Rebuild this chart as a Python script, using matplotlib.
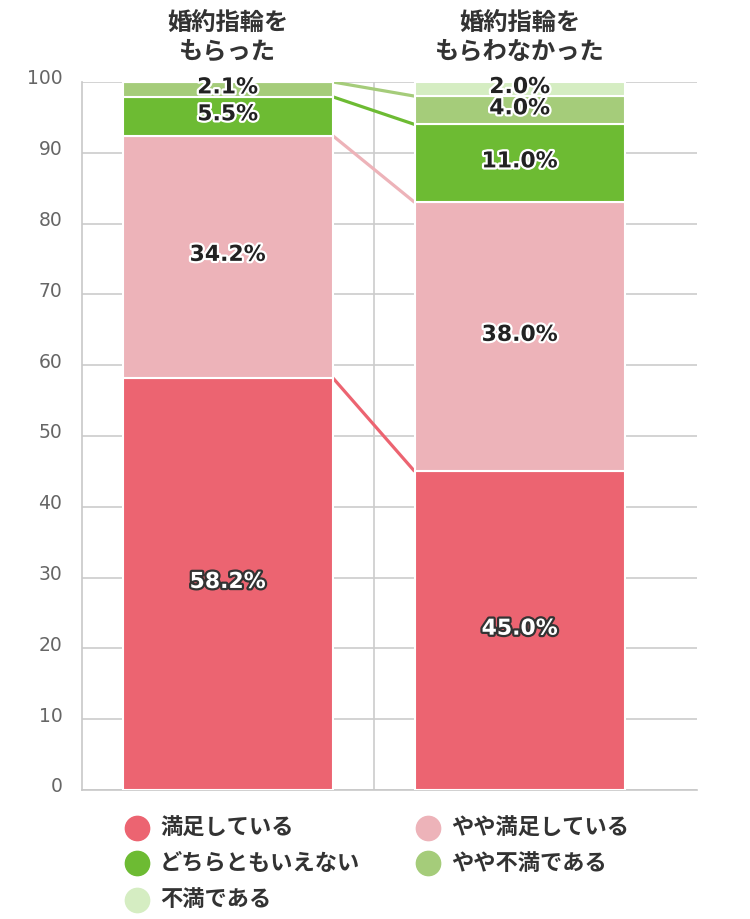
import matplotlib.pyplot as plt
import matplotlib.patheffects as pe
import matplotlib.transforms as mtransforms
import numpy as np

plt.rcParams["font.family"] = ["Noto Sans CJK JP", "DejaVu Sans"]

# データ
groups = ["婚約指輪を\nもらった", "婚約指輪を\nもらわなかった"]
series = ["満足している", "やや満足している", "どちらともいえない", "やや不満である", "不満である"]
values = {
    "満足している": [58.2, 45.0],
    "やや満足している": [34.2, 38.0],
    "どちらともいえない": [5.5, 11.0],
    "やや不満である": [2.1, 4.0],
    "不満である": [0.0, 2.0],
}
colors = ["#ec6471", "#edb3b9", "#6dbb33", "#a5cc7a", "#d5edc2"]

fig = plt.figure(figsize=(7.5, 9.19), dpi=100)
ax = fig.add_axes([0.109, 0.1404, 0.82, 0.7704])

x = np.arange(len(groups))
width = 0.72
bottom = np.zeros(len(groups))
lab_tr = mtransforms.offset_copy(ax.transData, fig=fig, y=2, units="dots")

for i, (name, col) in enumerate(zip(series, colors)):
    vals = np.array(values[name])
    ax.bar(x, vals, width, bottom=bottom, color=col, edgecolor="white",
           linewidth=1.5, zorder=3)
    top = bottom + vals
    # 棒の間の区切り線
    if vals[0] > 0:
        ax.plot([x[0] + width / 2, x[1] - width / 2], [top[0], top[1]],
                color=col, lw=2.3, zorder=2, solid_capstyle="butt")
    # 満足しているだけ白文字
    fg, st = ("white", "#333333") if i == 0 else ("#222222", "white")
    for xi, b, v in zip(x, bottom, vals):
        if v > 0:
            ax.text(xi, b + v / 2, f"{v:.1f}%", ha="center", va="center",
                    fontsize=15.8, fontweight="bold", color=fg, zorder=5,
                    family="DejaVu Sans", transform=lab_tr,
                    path_effects=[pe.withStroke(linewidth=3.2, foreground=st)])
    bottom = top

ax.set_xlim(-0.5, 1.606)
ax.set_ylim(0, 100)
ax.set_yticks(range(0, 101, 10))
ax.tick_params(axis="y", length=0, labelsize=13.5, labelcolor="#666666", pad=14)
for t in ax.get_yticklabels():
    t.set_family("DejaVu Sans")
    t.set_transform(t.get_transform() + mtransforms.ScaledTranslation(0, 5 / 100, fig.dpi_scale_trans))
ax.set_xticks([])
ax.grid(axis="y", color="#cccccc", lw=1.2, zorder=0)
ax.axvline(0.5, color="#cccccc", lw=1.2, zorder=0)
for s in ["top", "right"]:
    ax.spines[s].set_visible(False)
for s in ["left", "bottom"]:
    ax.spines[s].set_color("#c8c8c8")
    ax.spines[s].set_linewidth(1.2)

for xi, g in zip(x, groups):
    ax.text(xi, 106.3, g, ha="center", va="center", fontsize=17.5,
            fontweight="bold", color="#333333", linespacing=1.2,
            clip_on=False)

# 凡例（手動配置、ピクセル座標）
leg = fig.add_axes([0, 0, 1, 1], zorder=-1)
leg.set_xlim(0, 750)
leg.set_ylim(919, 0)
leg.axis("off")
leg_pos = [(137, 828), (428, 828), (137, 863), (428, 863), (137, 900)]
for (lx, ly), name, col in zip(leg_pos, series, colors):
    leg.plot(lx, ly, "o", ms=17.5, color=col, mec=col)
    leg.text(lx + 23, ly, name, ha="left", va="center", fontsize=16,
             fontweight="bold", color="#333333")

plt.savefig("out.png", dpi=100)
